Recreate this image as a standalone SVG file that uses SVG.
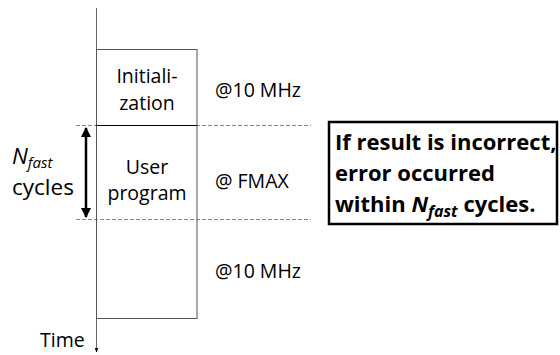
<svg xmlns="http://www.w3.org/2000/svg" width="560" height="355" viewBox="0 0 560 355">
<style>
text{font-family:"Open Sans","Liberation Sans",sans-serif;fill:#000}
.lbl{font-size:19.5px}
.side{font-size:22.5px}
.call{font-size:22px;font-weight:bold}
.dash{stroke:#888;stroke-width:1;stroke-dasharray:4,2;fill:none}
</style>
<defs>
<marker id="ah" viewBox="0 0 10 10" refX="9" refY="5" markerWidth="4" markerHeight="4" orient="auto-start-reverse"><path d="M0,0L10,5L0,10z" fill="#000"/></marker>
<marker id="ta" viewBox="0 0 10 10" refX="9" refY="5" markerWidth="5" markerHeight="5" orient="auto"><path d="M0,1L10,5L0,9z" fill="#000"/></marker>
</defs>
<g id="connectors">
<line x1="96.5" y1="8" x2="96.5" y2="352" stroke="#666" stroke-width="1" marker-end="url(#ta)"/>
<line class="dash" x1="76" y1="125.5" x2="311" y2="125.5"/>
<line class="dash" x1="76" y1="219.5" x2="311" y2="219.5"/>
<line x1="86" y1="128" x2="86" y2="217" stroke="#000" stroke-width="2.5" marker-start="url(#ah)" marker-end="url(#ah)"/>
</g>
<g id="timeline">
<rect x="96.5" y="49.5" width="100.5" height="269" fill="none" stroke="#555" stroke-width="1"/>
<line x1="96.5" y1="125.5" x2="197" y2="125.5" stroke="#000" stroke-width="1.2"/>
</g>
<g id="init">
<text class="lbl" x="147" y="83" text-anchor="middle">Initiali-</text>
<text class="lbl" x="147" y="110" text-anchor="middle">zation</text>
<text class="lbl" x="215" y="97">@10 MHz</text>
</g>
<g id="user">
<text class="lbl" x="147" y="174" text-anchor="middle">User</text>
<text class="lbl" x="147" y="200" text-anchor="middle">program</text>
<text class="lbl" x="215" y="188">@ FMAX</text>
</g>
<g id="final">
<text class="lbl" x="215" y="278">@10 MHz</text>
</g>
<g id="nfast">
<text class="side" x="12" y="164"><tspan font-style="italic">N</tspan><tspan font-style="italic" font-size="15" dy="4">fast</tspan></text>
<text class="side" x="12" y="195">cycles</text>
</g>
<g id="time">
<text class="lbl" x="40" y="347">Time</text>
</g>
<g id="callout">
<rect x="329" y="122" width="228" height="102" fill="#fff" stroke="#000" stroke-width="2.5"/>
<text class="call" x="335" y="150">If result is incorrect,</text>
<text class="call" x="335" y="181">error occurred</text>
<text class="call" x="335" y="212">within <tspan font-style="italic">N</tspan><tspan font-style="italic" font-size="16" dy="5">fast</tspan><tspan dy="-5"> cycles.</tspan></text>
</g>
</svg>
